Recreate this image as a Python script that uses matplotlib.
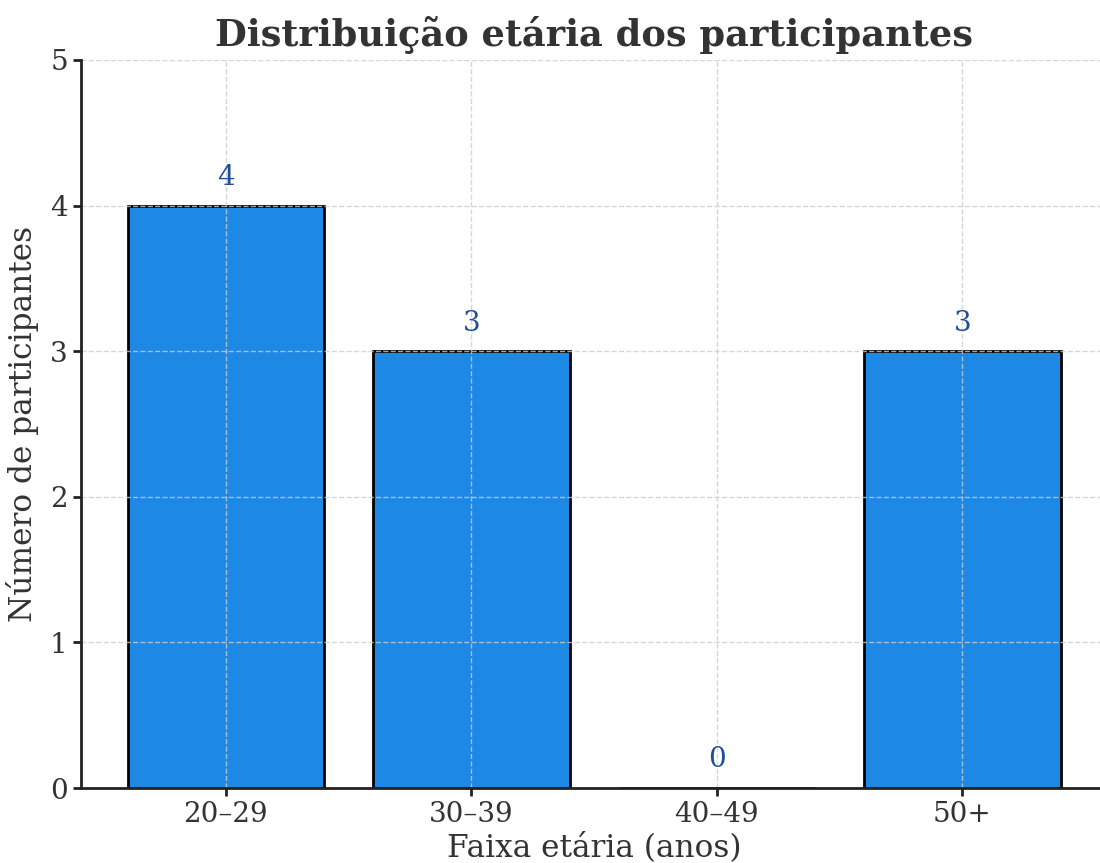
import numpy as np
import matplotlib
matplotlib.use("Agg")
import matplotlib.pyplot as plt

# data
faixas = ["20–29", "30–39", "40–49", "50+"]
contagens = [4, 3, 0, 3]

plt.rcParams['font.family'] = ['DejaVu Serif']

fig = plt.figure(figsize=(11, 8.63), dpi=100)
ax = fig.add_axes([0.0736, 0.0869, 0.933, 0.8436])

x = np.arange(len(faixas))
bars = ax.bar(x, contagens, width=0.8, color='#1E88E5', edgecolor='black', linewidth=2)

for xi, v in zip(x, contagens):
    ax.text(xi, v + 0.1, str(v), ha='center', va='bottom', fontsize=20, color='#1F4E9A')

ax.set_xticks(x)
ax.set_xticklabels(faixas)
ax.set_ylim(0, 5)
ax.set_xlim(-0.59, 3.59)
ax.set_yticks(range(6))

ax.grid(True, linestyle='--', color='#cccccc', linewidth=1, alpha=0.8)
ax.spines['top'].set_visible(False)
ax.spines['right'].set_visible(False)
for s in ['left', 'bottom']:
    ax.spines[s].set_linewidth(2)
    ax.spines[s].set_color('#222222')
ax.tick_params(labelsize=20, colors='#222222', width=2, length=6)
ax.tick_params(axis='y', labelcolor='#333333')
ax.tick_params(axis='x', labelcolor='#333333')

ax.set_title('Distribuição etária dos participantes', fontsize=26.5, fontweight='bold', color='#333333', pad=10)
ax.set_xlabel('Faixa etária (anos)', fontsize=22.5, color='#333333', labelpad=3)
ax.set_ylabel('Número de participantes', fontsize=22.5, color='#333333', labelpad=8)

fig.savefig('out.png', dpi=100)
